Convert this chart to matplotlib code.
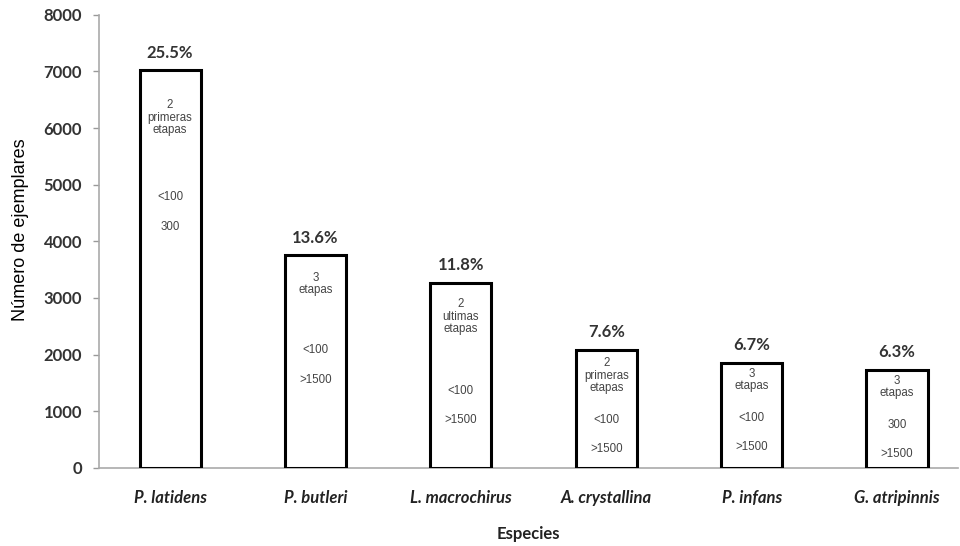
import matplotlib.pyplot as plt

especies = ['P. latidens', 'P. butleri', 'L. macrochirus', 'A. crystallina', 'P. infans', 'G. atripinnis']
ejemplares = [7020, 3750, 3270, 2085, 1850, 1730]
porcentajes = ['25.5%', '13.6%', '11.8%', '7.6%', '6.7%', '6.3%']
etapas = ['2\nprimeras\netapas', '3\netapas', '2\nultimas\netapas',
          '2\nprimeras\netapas', '3\netapas', '3\netapas']
rango_1 = ['<100', '<100', '<100', '<100', '<100', '300']
rango_2 = ['300', '>1500', '>1500', '>1500', '>1500', '>1500']

# heights (data units) where the small labels sit inside each bar
y_etapas = [6180, 3250, 2670, 1625, 1555, 1430]
y_rango_1 = [4790, 2085, 1360, 850, 885, 760]
y_rango_2 = [4260, 1555, 850, 335, 370, 250]

fig = plt.figure(figsize=(9.6, 5.46), dpi=100)
ax = fig.add_axes([0.103, 0.143, 0.895, 0.83])

x = range(len(especies))
bars = ax.bar(x, ejemplares, width=0.42, color='white', edgecolor='black', linewidth=2.2, zorder=3)

small = dict(ha='center', va='center', fontsize=8.3, family='Liberation Sans', color='#444444', zorder=4)
for i, b in enumerate(bars):
    cx = b.get_x() + b.get_width() / 2
    ax.annotate(porcentajes[i], (cx, b.get_height()), xytext=(0, 7), textcoords='offset points',
                ha='center', va='bottom', fontsize=12, fontweight='bold', family='Lato', color='#333333')
    ax.text(cx, y_etapas[i], etapas[i], linespacing=1.05, **small)
    ax.text(cx, y_rango_1[i], rango_1[i], **small)
    ax.text(cx, y_rango_2[i], rango_2[i], **small)

ax.set_ylim(0, 8000)
ax.set_xlim(-0.49, 5.42)
ax.set_yticks(range(0, 8001, 1000))
ax.set_xticks(list(x))
ax.set_xticklabels(especies, fontsize=12, fontweight='bold', style='italic', family='Lato', color='#222222')
for lbl in ax.get_yticklabels():
    lbl.set_fontsize(12)
    lbl.set_fontweight('bold')
    lbl.set_family('Lato')
    lbl.set_color('#333333')

ax.tick_params(axis='x', length=0, pad=16)
ax.tick_params(axis='y', length=4, width=1, color='#999999', pad=8)

for s in ['top', 'right']:
    ax.spines[s].set_visible(False)
ax.spines['left'].set_color('#aaaaaa')
ax.spines['bottom'].set_color('#aaaaaa')
ax.spines['left'].set_linewidth(1.2)
ax.spines['bottom'].set_linewidth(1.2)

ax.set_xlabel('Especies', fontsize=12, fontweight='bold', family='Lato', color='#222222', labelpad=14)
ax.set_ylabel('Número de ejemplares', fontsize=13, family='Liberation Sans', color='black', va='center')
ax.yaxis.set_label_coords(-0.091, 0.525)

fig.savefig('out.png', dpi=100)
